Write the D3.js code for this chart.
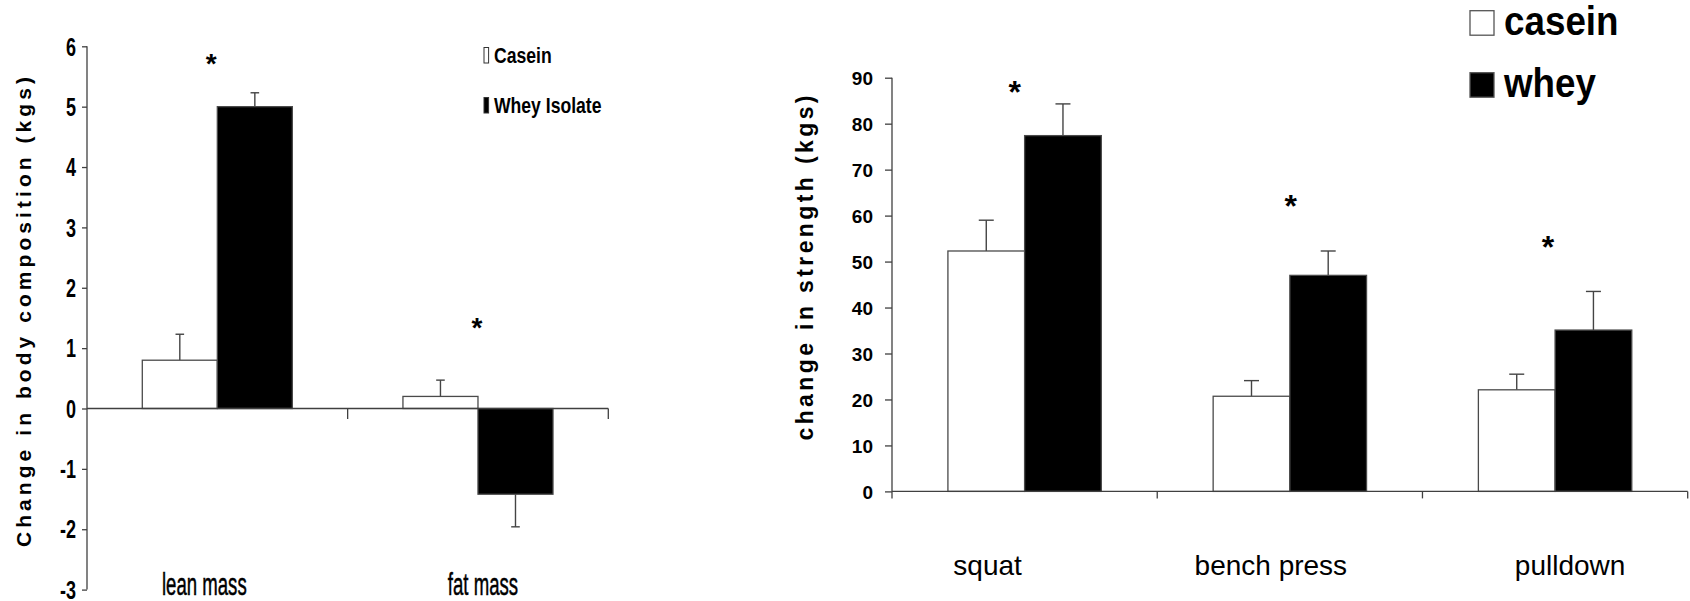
<!DOCTYPE html>
<html>
<head>
<meta charset="utf-8">
<script src="https://cdn.jsdelivr.net/npm/d3@7"></script>
<style>
  html, body { margin: 0; padding: 0; background: #fff; }
  svg { display: block; }
  text { font-family: "Liberation Sans", Arial, sans-serif; fill: #000; }
</style>
</head>
<body>
<svg id="fig" width="1690" height="601"></svg>
<script>
// ---- Body composition panel ----
const bodyCategories = ["lean mass", "fat mass"];
const bodySeries = ["Casein", "Whey Isolate"];
const bodyCasein = [0.8, 0.2];
const bodyCaseinErr = [0.43, 0.27];
const bodyWhey = [5.0, -1.42];
const bodyWheyErr = [0.23, 0.54];
const bodyTicks = [6, 5, 4, 3, 2, 1, 0, -1, -2, -3];
const bodyStarLevel = [5.82, 1.44];

// ---- Strength panel ----
const strengthCategories = ["squat", "bench press", "pulldown"];
const strengthSeries = ["casein", "whey"];
const strengthCasein = [52.3, 20.7, 22.1];
const strengthCaseinErr = [6.7, 3.4, 3.4];
const strengthWhey = [77.4, 47.0, 35.1];
const strengthWheyErr = [6.9, 5.3, 8.4];
const strengthTicks = [0, 10, 20, 30, 40, 50, 60, 70, 80, 90];
const strengthStarLevel = [88.4, 63.6, 54.7];

const svg = d3.select("#fig");
const axisColor = "#404040";
const fills = ["#ffffff", "#000000"];

function drawPanel(cfg) {
  const g = svg.append("g");
  const x = d3.scaleBand().domain(cfg.categories).range(cfg.xRange).padding(0);
  const xs = d3.scaleBand().domain(cfg.series).range([0, x.bandwidth()])
    .paddingInner(0).paddingOuter(cfg.groupPad);
  const y = d3.scaleLinear().domain(cfg.yDomain).range(cfg.yRange);

  const rows = [];
  cfg.categories.forEach((c, i) => {
    cfg.values.forEach((vals, s) => {
      rows.push({ c, s, v: vals[i], e: cfg.errs[s][i] });
    });
  });

  // error bars (one-sided, away from zero)
  const eg = g.append("g").attr("stroke", "#444").attr("stroke-width", 1.4);
  rows.forEach(d => {
    const cx = x(d.c) + xs(cfg.series[d.s]) + xs.bandwidth() / 2;
    const tip = d.v >= 0 ? d.v + d.e : d.v - d.e;
    eg.append("line").attr("x1", cx).attr("x2", cx).attr("y1", y(d.v)).attr("y2", y(tip));
    eg.append("line").attr("x1", cx - cfg.cap).attr("x2", cx + cfg.cap).attr("y1", y(tip)).attr("y2", y(tip));
  });

  // bars
  g.append("g").selectAll("rect").data(rows).join("rect")
    .attr("x", d => x(d.c) + xs(cfg.series[d.s]))
    .attr("width", xs.bandwidth())
    .attr("y", d => y(Math.max(0, d.v)))
    .attr("height", d => Math.abs(y(d.v) - y(0)))
    .attr("fill", d => fills[d.s])
    .attr("stroke", "#4a4a4a")
    .attr("stroke-width", 1.3);

  // y axis
  const yAxis = d3.axisLeft(y).tickValues(cfg.ticks).tickSize(cfg.yTickLen)
    .tickPadding(cfg.yTickPad).tickFormat(d => String(d));
  const ya = g.append("g").attr("transform", `translate(${cfg.xRange[0]},0)`).call(yAxis);
  ya.select(".domain").attr("stroke", axisColor).attr("stroke-width", 1.3)
    .attr("d", `M0,${cfg.yRange[0]}V${cfg.yRange[1]}`);
  ya.selectAll(".tick line").attr("stroke", axisColor).attr("stroke-width", 1.3);
  ya.selectAll(".tick text")
    .attr("font-family", "'Liberation Sans', Arial, sans-serif")
    .attr("font-size", cfg.yTickFont).attr("font-weight", "bold").attr("fill", "#000")
    .attr("dy", "0.35em")
    .attr("transform", function () {
      const tx = +d3.select(this).attr("x");
      return `translate(${tx},0) scale(${cfg.yTickScale},1)`;
    })
    .attr("x", 0);

  // zero line with category separators
  const y0 = y(0);
  const xa = g.append("g").attr("stroke", axisColor).attr("stroke-width", 1.3);
  xa.append("line").attr("x1", cfg.xRange[0]).attr("x2", cfg.xRange[1]).attr("y1", y0).attr("y2", y0);
  const seps = cfg.categories.map(c => x(c) + x.bandwidth()).concat(cfg.sepAtStart ? [cfg.xRange[0]] : []);
  seps.forEach(sx => xa.append("line").attr("x1", sx).attr("x2", sx).attr("y1", y0).attr("y2", y0 + cfg.sepLen));

  // category labels
  cfg.categories.forEach((c, i) => {
    const cx = x(c) + x.bandwidth() / 2 + cfg.labelShift[i];
    g.append("text")
      .attr("transform", `translate(${cx},${cfg.labelY}) scale(${cfg.labelScale},1)`)
      .attr("text-anchor", "middle")
      .attr("font-size", cfg.labelFont)
      .attr("stroke", "#000").attr("stroke-width", cfg.labelStroke)
      .text(c);
  });

  // significance markers
  cfg.categories.forEach((c, i) => {
    const cx = x(c) + x.bandwidth() / 2 + cfg.starShift[i];
    g.append("text")
      .attr("x", cx).attr("y", y(cfg.stars[i]) + cfg.starFont * 0.55)
      .attr("text-anchor", "middle")
      .attr("font-size", cfg.starFont).attr("font-weight", "bold")
      .text("*");
  });

  // y title
  g.append("text")
    .attr("transform", `translate(${cfg.titleX},${cfg.titleY}) rotate(-90)`)
    .attr("text-anchor", "middle")
    .attr("font-size", cfg.titleFont).attr("font-weight", "bold")
    .attr("textLength", cfg.titleLen).attr("lengthAdjust", "spacing")
    .text(cfg.title);

  return { x, y };
}

drawPanel({
  categories: bodyCategories, series: bodySeries,
  values: [bodyCasein, bodyWhey], errs: [bodyCaseinErr, bodyWheyErr],
  ticks: bodyTicks, stars: bodyStarLevel,
  xRange: [87, 608.3], yDomain: [-3, 6], yRange: [589.6, 46.3],
  groupPad: 0.737, cap: 4.3,
  yTickLen: 5, yTickPad: 6, yTickFont: 25, yTickScale: 0.72,
  sepLen: 10.5, sepAtStart: false,
  labelShift: [-13, 5], labelY: 595, labelFont: 31, labelScale: 0.6, labelStroke: 0.5,
  starShift: [-6, -1], starFont: 28,
  title: "Change in body composition (kgs)", titleX: 31, titleY: 312, titleFont: 21, titleLen: 470
});

drawPanel({
  categories: strengthCategories, series: strengthSeries,
  values: [strengthCasein, strengthWhey], errs: [strengthCaseinErr, strengthWheyErr],
  ticks: strengthTicks, stars: strengthStarLevel,
  xRange: [892, 1687.7], yDomain: [0, 90], yRange: [491.4, 77.7],
  groupPad: 0.729, cap: 7.5,
  yTickLen: 7, yTickPad: 12, yTickFont: 19, yTickScale: 1,
  sepLen: 7, sepAtStart: true,
  labelShift: [-37, -19, 15], labelY: 575, labelFont: 28, labelScale: 1, labelStroke: 0,
  starShift: [-10, 1, -7], starFont: 32,
  title: "change in strength (kgs)", titleX: 813, titleY: 268, titleFont: 23, titleLen: 345
});

// ---- legends ----
const legBody = svg.append("g");
bodySeries.forEach((s, i) => {
  const top = [47.5, 97.5][i];
  legBody.append("rect").attr("x", 484).attr("y", top).attr("width", 4.6).attr("height", 15.5)
    .attr("fill", fills[i]).attr("stroke", "#333").attr("stroke-width", 1);
  legBody.append("text")
    .attr("transform", `translate(494,${top + 15.5}) scale(0.8,1)`)
    .attr("font-size", 22).attr("font-weight", "bold")
    .text(s);
});

const legStr = svg.append("g");
strengthSeries.forEach((s, i) => {
  const top = [10.7, 72.7][i];
  legStr.append("rect").attr("x", 1470).attr("y", top).attr("width", 24).attr("height", 24.5)
    .attr("fill", fills[i]).attr("stroke", "#555").attr("stroke-width", 1.3);
  legStr.append("text")
    .attr("transform", `translate(1504,${top + 24.3}) scale(0.92,1)`)
    .attr("font-size", 40).attr("font-weight", "bold")
    .text(s);
});
</script>
</body>
</html>
